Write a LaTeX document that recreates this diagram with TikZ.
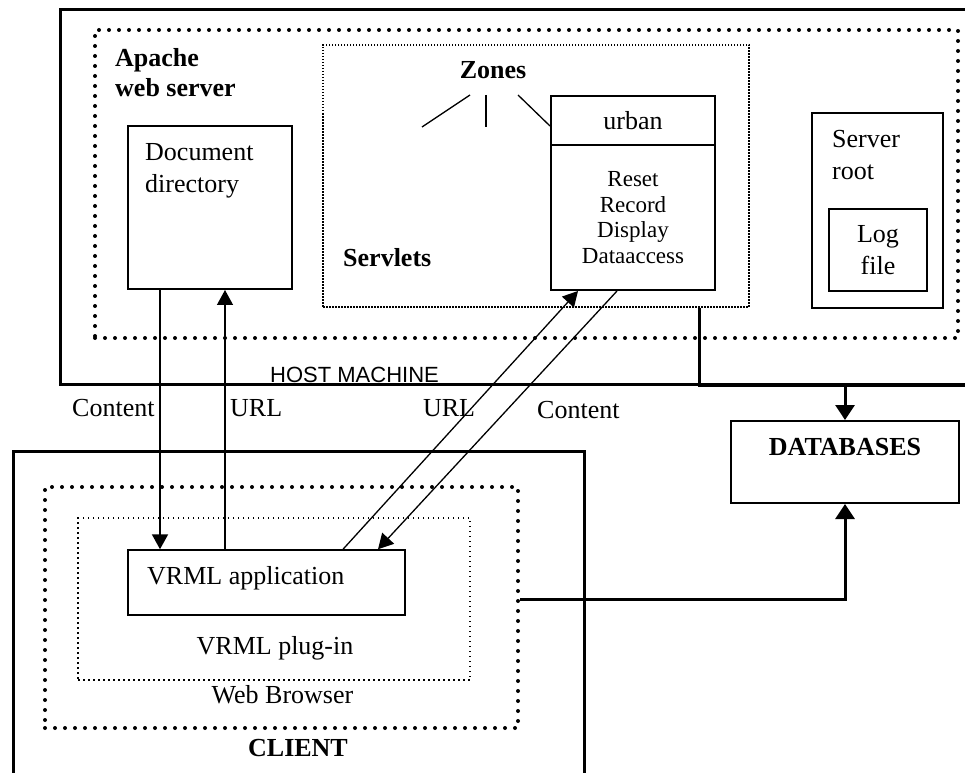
\documentclass[tikz,border=0pt]{standalone}
\usepackage{fontspec}
\setmainfont{Liberation Serif}
\newfontfamily\hostfont{Liberation Sans}
\usetikzlibrary{arrows.meta,positioning}

\begin{document}
\begin{tikzpicture}[x=1pt,y=1pt,font=\fontsize{26}{32}\selectfont,
		solidbox/.style={rectangle,draw,line width=2pt,inner sep=0pt},
		heavybox/.style={rectangle,draw,line width=3pt,inner sep=0pt},
		beadbox/.style={rectangle,draw,line width=4pt,line cap=round,dash pattern=on 0pt off 10pt,inner sep=0pt},
		finebox/.style={rectangle,draw,line width=1.5pt,dash pattern=on 1.5pt off 1.5pt,inner sep=0pt},
		dotbox/.style={rectangle,draw,line width=1.5pt,dash pattern=on 1.5pt off 3.5pt,inner sep=0pt},
		txt/.style={inner sep=0pt,align=left},
		headtxt/.style={txt,font=\fontsize{26}{30}\selectfont\bfseries},
		flow/.style={line width=1.3pt,-{Triangle[length=15pt,width=16pt]}},
		dbflow/.style={line width=3pt,-{Triangle[length=15pt,width=19pt]}}]
		\useasboundingbox (0,0) rectangle (965,772);
		% Host machine
		\node [heavybox,minimum width=915pt,minimum height=374pt] (host) at (517.5,575) {};
		\node [beadbox,minimum width=863pt,minimum height=308pt] (apache) at (526.5,588) {};
		\node [finebox,minimum width=426pt,minimum height=262pt] (servlets) at (536,596) {};
		\node [solidbox,minimum width=164pt,minimum height=163pt] (docdir) at (210,564.5) {};
		\node [solidbox,minimum width=164pt,minimum height=49pt] (urbanhead) at (633,651.5) {urban};
		\node [solidbox,minimum width=164pt,minimum height=145pt,below=-2pt of urbanhead,align=center,
			font=\fontsize{23}{25.5}\selectfont] (urbanbody) {Reset\\Record\\Display\\Dataaccess};
		\node [solidbox,minimum width=131pt,minimum height=195pt] (srvroot) at (877.5,561.5) {};
		\node [solidbox,minimum width=98pt,minimum height=82pt,align=center] (logfile) at (878,522) {Log\\file};

		\node [headtxt,anchor=north west] (apachetxt) at (115,724) {Apache\\web server};
		\node [txt,anchor=north west] (docdirtxt) at (145,629) {Document\\directory};
		\node [headtxt] (zonestxt) at (493,701.5) {Zones};
		\node [headtxt,anchor=north west] (servletstxt) at (343,524) {Servlets};
		\node [txt,anchor=north west] (srvroottxt) at (832,642) {Server\\root};
		\node [txt,anchor=base west,font=\hostfont\fontsize{22}{24}\selectfont] (hosttxt) at (270,390) {HOST MACHINE};

		% Zones fan
		\coordinate (za) at (470,677);
		\coordinate (zb) at (486,677);
		\coordinate (zc) at (518,677);
		\coordinate (zaend) at (422,645);
		\coordinate (zbend) at (486,645);
		\draw [line width=1.3pt] (za) -- (zaend);
		\draw [line width=2pt] (zb) -- (zbend);
		\draw [line width=1.3pt] (zc) -- ([yshift=-5.5pt]urbanhead.west);

		% Databases
		\node [solidbox,minimum width=228pt,minimum height=82pt] (db) at (845,310) {};
		\node [headtxt] (dbtxt) at (845,325) {DATABASES};

		% Client
		\node [heavybox,minimum width=571pt,minimum height=341pt] (client) at (298.5,150.5) {};
		\node [beadbox,minimum width=473pt,minimum height=241pt] (browser) at (281.5,164.5) {};
		\node [dotbox,minimum width=392pt,minimum height=162pt] (plugin) at (274,173) {};
		\node [rectangle,draw,line width=1.5pt,minimum width=277pt,minimum height=65pt] (vrmlapp) at (266.5,189.5) {};
		\node [txt,anchor=west] (vrmlapptxt) at (147,194) {VRML application};
		\node [txt] (plugintxt) at (275,124) {VRML plug-in};
		\node [txt] (browsertxt) at (282.5,77) {Web Browser};
		\node [headtxt] (clienttxt) at (298,24) {CLIENT};

		% Arrow labels
		\node [txt,anchor=west] (contentl) at (72,364) {Content};
		\node [txt,anchor=west] (urll) at (230,364) {URL};
		\node [txt] (urlr) at (449,364) {URL};
		\node [txt,anchor=west] (contentr) at (537,362) {Content};

		% Requests and replies
		\draw [flow,line width=2pt] ([xshift=-50pt]docdir.south) -- ([xshift=-50pt]docdir.south |- vrmlapp.north);
		\draw [flow] ([xshift=15pt]docdir.south |- vrmlapp.north) -- ([xshift=15pt]docdir.south);
		\draw [flow] ([xshift=76.5pt]vrmlapp.north) -- ([xshift=-55pt]urbanbody.south);
		\draw [flow] ([xshift=-16pt]urbanbody.south) -- ([xshift=111.5pt]vrmlapp.north);

		% Database links
		\coordinate (busend) at (975,387);
		\draw [line width=3pt] ([xshift=163pt]servlets.south) |- (busend);
		\draw [dbflow] (db.north |- busend) -- (db.north);
		\draw [dbflow] ([yshift=8.5pt]browser.east) -| (db.south);
	\end{tikzpicture}
\end{document}
